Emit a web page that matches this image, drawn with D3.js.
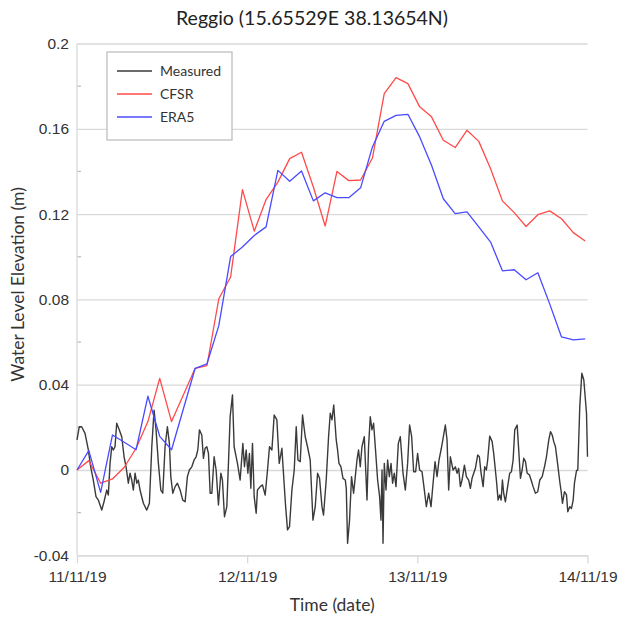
<!DOCTYPE html>
<html>
<head>
<meta charset="utf-8">
<script src="https://cdn.jsdelivr.net/npm/d3@7"></script>
<style>
  body { margin: 0; background: #fff; }
  svg { font-family: Lato, "Open Sans", sans-serif; }
</style>
</head>
<body>
<svg id="chart"></svg>
<script>
// chart values

const width = 622;
const height = 617;

const titleText = 'Reggio (15.65529E 38.13654N)';
const yLabelText = 'Water Level Elevation (m)';
const xLabelText = 'Time (date)';

const yTicks = [-0.04, 0, 0.04, 0.08, 0.12, 0.16, 0.2];
const yTickLabels = ['-0.04', '0', '0.04', '0.08', '0.12', '0.16', '0.2'];
const yMinorTicks = [-0.02, 0.02, 0.06, 0.10, 0.14, 0.18];

const dateHours = [0, 24, 48, 72];
const dateLabels = ['11/11/19', '12/11/19', '13/11/19', '14/11/19'];

const seriesNames = ['Measured', 'CFSR', 'ERA5'];
const seriesColors = ['#3a3a3a', '#ff4a4a', '#4a4aff'];

// model output, one value every 100 minutes from 11/11/19 00:00
const modelStepHours = 100 / 60;
const cfsr = [0, 0.0044, -0.0062, -0.0042, 0.0013, 0.0102, 0.0227, 0.043, 0.0227, 0.0352,
  0.0477, 0.049, 0.0803, 0.0905, 0.1315, 0.112, 0.1268, 0.135, 0.146, 0.149,
  0.1327, 0.1144, 0.140, 0.1357, 0.136, 0.1463, 0.1765, 0.184, 0.1812, 0.1703,
  0.1656, 0.1546, 0.1512, 0.1593, 0.1541, 0.1413, 0.1262, 0.1207, 0.1142, 0.1197,
  0.1215, 0.1178, 0.1113, 0.1074];
const era5 = [0, 0.0091, -0.0105, 0.0164, 0.013, 0.0095, 0.0346, 0.0158, 0.0095, 0.0286,
  0.0477, 0.0498, 0.0677, 0.1001, 0.1046, 0.110, 0.114, 0.1405, 0.1354, 0.1402,
  0.1262, 0.130, 0.1277, 0.1277, 0.1323, 0.1515, 0.1635, 0.1663, 0.1668, 0.1562,
  0.1429, 0.1272, 0.1202, 0.121, 0.114, 0.1069, 0.0934, 0.0939, 0.0892, 0.0925,
  0.0779, 0.0624, 0.061, 0.0615];

// tide gauge, [hours since 11/11/19 00:00, metres]
const measured = [
  [0, 0.0141], [0.32, 0.0203], [0.66, 0.0203], [1.13, 0.0172], [1.60, 0.0094], [1.93, 0.0015],
  [2.30, -0.0047], [2.68, -0.0125], [3.01, -0.0141], [3.49, -0.0188], [3.81, -0.0149], [4.19, -0.0094],
  [4.42, -0.0117], [4.66, 0.0031], [4.90, 0.0109], [5.12, 0.0094], [5.36, 0.0109], [5.60, 0.0219],
  [5.97, 0.0188], [6.31, 0.0156], [6.64, 0.0062], [6.92, 0.0015], [7.24, -0.0062], [7.48, -0.0015],
  [7.72, -0.0047], [7.95, -0.0094], [8.19, -0.0015], [8.43, -0.0062], [8.65, -0.0047], [8.89, -0.0094],
  [9.36, -0.0156], [9.84, -0.0188], [10.21, -0.0156], [10.55, 0.0109], [10.87, 0.0281], [11.15, 0.0188],
  [11.48, 0.0031], [11.82, -0.0094], [12.10, -0.0109], [12.42, 0.0109], [12.75, 0.0203], [13.03, 0.0125],
  [13.23, -0.0031], [13.51, -0.0109], [13.84, -0.0078], [14.16, -0.0062], [14.54, -0.0094], [14.92, -0.0141],
  [15.25, -0.0149], [15.57, -0.0031], [15.85, 0], [16.19, 0.0015], [16.52, 0.0047], [16.80, 0.0062],
  [17.04, 0.0094], [17.27, 0.0188], [17.60, 0.0164], [17.83, 0.0055], [18.07, 0.0102], [18.31, 0.0109],
  [18.54, 0.0078], [18.78, -0.0109], [19.02, -0.0109], [19.34, 0.0062], [19.62, 0], [19.95, -0.0164],
  [20.29, -0.0015], [20.51, -0.0047], [20.80, -0.0219], [21.13, -0.0172], [21.36, 0.0031], [21.60, 0.025],
  [21.93, 0.0352], [22.16, 0.0109], [22.45, 0.0062], [22.63, 0.0031], [23.01, -0.0047], [23.39, 0.0125],
  [23.62, 0.0015], [23.86, 0.0094], [24.10, -0.0015], [24.32, 0.0078], [24.52, -0.0086], [24.75, 0.0125],
  [24.99, -0.0125], [25.27, -0.0203], [25.45, -0.0094], [25.84, -0.0078], [26.16, -0.007], [26.54, -0.0117],
  [26.87, 0], [27.15, 0.0109], [27.49, 0.0094], [27.81, 0.0258], [28.19, 0.0235], [28.52, 0.0031],
  [28.90, 0.0102], [29.12, -0.0015], [29.41, -0.0164], [29.69, -0.0281], [29.97, -0.0266], [30.31, -0.0094],
  [30.64, 0], [30.92, 0.0203], [31.16, 0.0047], [31.48, 0.0039], [31.81, 0.0258], [32.19, 0.0156],
  [32.51, 0.0109], [32.89, 0.0047], [33.28, -0.0235], [33.60, -0.0172], [33.93, -0.0015], [34.21, -0.0039],
  [34.55, -0.0172], [34.77, -0.0211], [35.15, -0.0047], [35.48, 0.0156], [35.72, 0.0266], [35.96, 0.0235],
  [36.21, 0.0305], [36.56, 0.0141], [36.75, 0.0094], [36.95, 0.0031], [37.23, 0.0015], [37.51, -0.0039],
  [37.84, -0.0047], [37.98, -0.0086], [38.16, -0.0344], [38.44, -0.0235], [38.72, -0.0031], [39.01, -0.0109],
  [39.25, -0.0031], [39.49, 0.0047], [39.71, 0.0094], [39.95, 0.0015], [40.19, 0.0109], [40.52, 0.0156],
  [40.90, -0.0141], [41.12, 0.0109], [41.36, 0.025], [41.60, 0.0188], [41.83, 0.0219], [42.07, 0.0109],
  [42.40, -0.0047], [42.68, -0.0125], [42.87, -0.0235], [43.02, 0], [43.16, -0.0344], [43.34, 0.0031],
  [43.58, -0.0094], [43.81, 0.0047], [44.05, -0.0031], [44.29, 0.0031], [44.51, -0.0062], [44.75, -0.0015],
  [44.99, -0.0078], [45.32, 0.0125], [45.60, 0.0156], [45.74, 0.0094], [45.98, -0.0015], [46.31, -0.0094],
  [46.63, 0.0031], [46.91, 0.0211], [47.20, 0.0156], [47.48, -0.0008], [47.76, -0.0008], [48.04, 0.0078],
  [48.32, 0], [48.66, -0.0008], [48.99, -0.0094], [49.27, -0.0172], [49.60, -0.0109], [49.93, -0.0172],
  [50.22, -0.0062], [50.50, 0.0039], [50.78, -0.0031], [51.06, 0.0047], [51.39, 0.0102], [51.71, 0.0164],
  [51.95, 0.0211], [52.19, 0.0141], [52.42, -0.0094], [52.66, 0.0062], [53.04, 0], [53.36, 0.0015],
  [53.61, -0.0015], [53.83, 0.0008], [54.07, -0.0078], [54.31, -0.0047], [54.64, 0.0023], [54.92, -0.0031],
  [55.24, -0.0047], [55.48, -0.0086], [55.72, -0.0039], [55.95, -0.0015], [56.19, 0.0008], [56.51, 0.007],
  [56.75, 0.0062], [56.99, -0.0015], [57.28, -0.0078], [57.50, 0.0015], [57.74, 0], [57.92, 0.0047],
  [58.21, 0.0159], [58.55, 0.0133], [58.77, 0.0078], [59.15, -0.0047], [59.39, -0.0141], [59.62, -0.0117],
  [59.82, -0.0141], [60.00, -0.0047], [60.18, -0.0109], [60.42, -0.0149], [60.66, -0.0094], [61.03, -0.0015],
  [61.27, -0.0008], [61.51, 0.0047], [61.74, 0.0188], [62.08, 0.0211], [62.30, 0.0094], [62.54, -0.0039],
  [62.78, 0], [63.01, 0.0055], [63.25, 0.0039], [63.49, -0.0015], [63.81, -0.0023], [64.05, -0.0047],
  [64.33, -0.0078], [64.66, -0.0109], [64.98, -0.0102], [65.27, -0.0047], [65.61, -0.0031], [65.93, 0.0015],
  [66.21, 0.0062], [66.54, 0.0141], [66.78, 0.018], [67.02, 0.0164], [67.24, 0.0133], [67.48, 0.0109],
  [67.81, 0.0023], [68.09, -0.0055], [68.29, -0.0102], [68.47, -0.0156], [68.75, -0.0102], [69.04, -0.0117],
  [69.22, -0.0196], [69.50, -0.0172], [69.74, -0.018], [69.98, -0.0141], [70.16, -0.0062], [70.45, -0.0003],
  [70.63, 0], [70.91, 0.0297], [71.20, 0.0454], [71.48, 0.0422], [71.86, 0.0266], [72.0, 0.0062]
];

const margin = {left: 77, right: 34.5, top: 43.5, bottom: 61.7};

const x = d3.scaleLinear()
  .domain([0, 72])
  .range([margin.left, width - margin.right]);

const y = d3.scaleLinear()
  .domain([-0.04, 0.2])
  .range([height - margin.bottom, margin.top]);

const svg = d3.select('#chart')
  .attr('width', width)
  .attr('height', height);

const gridColor = '#d9d9d9';
const textColor = '#333';

// horizontal gridlines + y labels
const yAxis = svg.append('g')
  .attr('transform', `translate(${margin.left},0)`)
  .call(d3.axisLeft(y)
    .tickValues(yTicks)
    .tickFormat((d, i) => yTickLabels[i])
    .tickSize(-(width - margin.left - margin.right))
    .tickPadding(8));
yAxis.select('.domain').remove();
yAxis.selectAll('.tick line').attr('stroke', gridColor).attr('stroke-width', 1.3);
yAxis.selectAll('.tick text')
  .attr('fill', textColor)
  .style('font-size', '15.5px');

// minor ticks, inside the plot
svg.append('g')
  .selectAll('line')
  .data(yMinorTicks)
  .join('line')
  .attr('x1', margin.left)
  .attr('x2', margin.left + 4)
  .attr('y1', d => y(d))
  .attr('y2', d => y(d))
  .attr('stroke', '#bfbfbf')
  .attr('stroke-width', 1.3);

// left axis line
svg.append('line')
  .attr('x1', margin.left).attr('x2', margin.left)
  .attr('y1', y(0.2)).attr('y2', y(-0.04))
  .attr('stroke', gridColor)
  .attr('stroke-width', 1.3);

// bottom axis with outside ticks
const xAxis = svg.append('g')
  .attr('transform', `translate(0,${y(-0.04)})`)
  .call(d3.axisBottom(x)
    .tickValues(dateHours)
    .tickFormat((d, i) => dateLabels[i])
    .tickSize(8)
    .tickSizeOuter(0)
    .tickPadding(8));
xAxis.select('.domain').attr('stroke', gridColor).attr('stroke-width', 1.3);
xAxis.selectAll('.tick line').attr('stroke', gridColor).attr('stroke-width', 1.3);
xAxis.selectAll('.tick text')
  .attr('fill', textColor)
  .style('font-size', '15.5px');

// series
const line = d3.line()
  .x(d => x(d[0]))
  .y(d => y(d[1]));

const cfsrPts = cfsr.map((v, i) => [i * modelStepHours, v]);
const era5Pts = era5.map((v, i) => [i * modelStepHours, v]);

const seriesData = [measured, cfsrPts, era5Pts];

svg.append('g')
  .selectAll('path')
  .data(seriesData)
  .join('path')
  .attr('d', d => line(d))
  .attr('fill', 'none')
  .attr('stroke', (d, i) => seriesColors[i])
  .attr('stroke-width', (d, i) => i === 0 ? 1.4 : 1.3)
  .attr('stroke-linejoin', 'round');

// titles
svg.append('text')
  .attr('x', 312)
  .attr('y', 25)
  .attr('text-anchor', 'middle')
  .attr('fill', '#222')
  .style('font-size', '19.5px')
  .text(titleText);

svg.append('text')
  .attr('transform', `translate(24,${(y(0.2) + y(-0.04)) / 2 - 15}) rotate(-90)`)
  .attr('text-anchor', 'middle')
  .attr('fill', textColor)
  .style('font-size', '17.5px')
  .text(yLabelText);

svg.append('text')
  .attr('x', (margin.left + width - margin.right) / 2)
  .attr('y', 611)
  .attr('text-anchor', 'middle')
  .attr('fill', textColor)
  .style('font-size', '17.5px')
  .text(xLabelText);

// legend
const legend = svg.append('g').attr('transform', 'translate(107,52)');
legend.append('rect')
  .attr('width', 125)
  .attr('height', 88)
  .attr('fill', '#fff')
  .attr('stroke', '#bfbfbf')
  .attr('stroke-width', 1.3);

const legendRows = legend.selectAll('g.row')
  .data(seriesNames)
  .join('g')
  .attr('class', 'row')
  .attr('transform', (d, i) => `translate(0,${19 + i * 23})`);

legendRows.append('line')
  .attr('x1', 10).attr('x2', 45)
  .attr('stroke', (d, i) => seriesColors[i])
  .attr('stroke-width', 1.3);

legendRows.append('text')
  .attr('x', 53)
  .attr('dy', '0.35em')
  .attr('fill', textColor)
  .style('font-size', '14px')
  .text(d => d);
</script>
</body>
</html>
